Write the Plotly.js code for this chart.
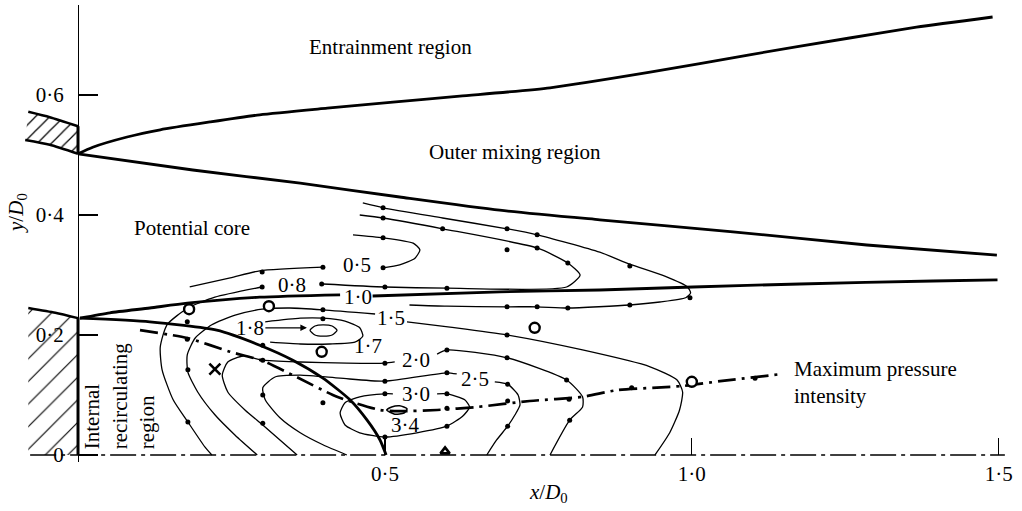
<!DOCTYPE html>
<html>
<head>
<meta charset="utf-8">
<script src="https://cdn.plot.ly/plotly-3.0.1.min.js"></script>
<style>html,body{margin:0;padding:0;background:#fff;}#chart{width:1022px;height:511px;}</style>
</head>
<body>
<div id="chart"></div>
<script>
// ---- axis ticks ----
const xTickVals = [0.5, 1.0, 1.5];
const xTickText = ['0·5', '1·0', '1·5'];
const yTickVals = [0, 0.2, 0.4, 0.6];
const yTickText = ['0', '0·2', '0·4', '0·6'];

// ---- region boundaries (x/D0, y/D0) ----
const outerEdgeX = [0, 0.024, 0.080, 0.134, 0.215, 0.296, 0.406, 0.513, 0.622, 0.769, 0.932, 1.094, 1.257, 1.366, 1.490];
const outerEdgeY = [0.502, 0.513, 0.530, 0.542, 0.555, 0.567, 0.578, 0.588, 0.598, 0.612, 0.638, 0.667, 0.695, 0.713, 0.730];
const coreTopX = [0, 0.187, 0.362, 0.524, 0.687, 0.850, 1.067, 1.285, 1.497];
const coreTopY = [0.502, 0.475, 0.453, 0.430, 0.408, 0.392, 0.372, 0.350, 0.333];
const innerEdgeX = [0.003, 0.052, 0.117, 0.178, 0.296, 0.427, null, 0.480, 0.687, 0.850, 1.002, 1.176, 1.393, 1.498];
const innerEdgeY = [0.228, 0.237, 0.245, 0.253, 0.263, 0.267, null, 0.265, 0.272, 0.275, 0.280, 0.285, 0.290, 0.292];
const coreEndX = [0.003, 0.117, 0.226, 0.296, 0.350, 0.399, 0.443, 0.471, 0.492, 0.502];
const coreEndY = [0.228, 0.222, 0.208, 0.183, 0.158, 0.128, 0.092, 0.058, 0.025, 0];
const maxPX = [0.101, 0.178, 0.248, 0.301, 0.350, 0.422, 0.492, 0.524, 0.585, 0.650, 0.736, 0.822, 0.878, 0.985, 1.046, 1.147];
const maxPY = [0.208, 0.195, 0.172, 0.157, 0.133, 0.097, 0.075, 0.073, 0.075, 0.080, 0.090, 0.097, 0.108, 0.115, 0.123, 0.135];
const centreX = [-0.078, 1.51];
const centreY = [0, 0];
const wallX = [0, 0];
const wallY = [0.228, 0];
const lipWallX = [0, 0];
const lipWallY = [0.548, 0.502];

// ---- nozzle (hatched) ----
const lipX = [-0.081, -0.046, 0, 0, -0.046, -0.086];
const lipY = [0.572, 0.563, 0.548, 0.502, 0.517, 0.525];
const lipTopX = [-0.081, -0.046, 0];
const lipTopY = [0.572, 0.563, 0.548];
const lipBotX = [-0.086, -0.046, 0];
const lipBotY = [0.525, 0.517, 0.502];
const bodyX = [-0.081, -0.037, 0, 0, -0.081];
const bodyY = [0.245, 0.237, 0.228, 0, 0];
const bodyTopX = [-0.081, -0.037, 0];
const bodyTopY = [0.245, 0.237, 0.228];

// ---- pressure-intensity contours ----
const c05X = [0.182, 0.248, 0.296, 0.399, null, 0.497, 0.524, 0.549, 0.557, 0.546, 0.497, 0.448];
const c05Y = [0.280, 0.295, 0.307, 0.313, null, 0.312, 0.317, 0.328, 0.342, 0.353, 0.362, 0.367];
const c08X = [0.218, 0.207, 0.179, 0.155, 0.137, 0.134, 0.145, 0.179, 0.223, 0.300, null, 0.399, 0.500, 0.601, 0.796, 0.818, 0.798, 0.748, 0.594, 0.497, 0.459];
const c08Y = [0, 0.013, 0.055, 0.092, 0.142, 0.180, 0.217, 0.245, 0.263, 0.280, null, 0.285, 0.280, 0.278, 0.280, 0.300, 0.320, 0.345, 0.377, 0.395, 0.400];
const cOutX = [0.464, 0.497, 0.594, 0.699, 0.748, 0.850, 0.899, 0.956, 0.993, 0.998, 0.990, 0.948, 0.899, 0.798, 0.748, 0.699, 0.601, 0.540];
const cOutY = [0.420, 0.412, 0.395, 0.377, 0.367, 0.338, 0.318, 0.298, 0.280, 0.270, 0.262, 0.255, 0.250, 0.245, 0.247, 0.247, 0.248, 0.250];
const c15X = [0.292, 0.256, 0.223, 0.195, 0.179, 0.178, 0.191, 0.218, 0.256, 0.300, 0.345, 0.399, 0.484, null, 0.536, 0.606, 0.699, 0.822, 0.932, 0.976, 0.985, 0.980, 0.964, 0.940];
const c15Y = [0, 0.033, 0.067, 0.105, 0.138, 0.167, 0.195, 0.217, 0.233, 0.243, 0.245, 0.242, 0.235, null, 0.222, 0.213, 0.200, 0.175, 0.147, 0.125, 0.105, 0.075, 0.037, 0];
const c17X = [0.305, 0.362, 0.399, 0.435, 0.459, 0.464, 0.451, 0.410, 0.362, 0.313];
const c17Y = [0.222, 0.228, 0.228, 0.223, 0.212, 0.198, 0.188, 0.185, 0.185, 0.188];
const c18X = [0.378, 0.386, 0.399, 0.414, 0.422, 0.414, 0.399, 0.386, 0.378];
const c18Y = [0.208, 0.215, 0.217, 0.215, 0.208, 0.200, 0.198, 0.200, 0.208];
const c20X = [0.357, 0.329, 0.301, 0.272, 0.244, 0.235, 0.244, 0.269, 0.301, 0.362, 0.438, 0.500, 0.516, null, 0.585, 0.601, 0.699, 0.796, 0.822, 0.822, 0.801, 0.769];
const c20Y = [0, 0.025, 0.050, 0.075, 0.105, 0.133, 0.155, 0.165, 0.158, 0.155, 0.153, 0.153, 0.155, null, 0.168, 0.175, 0.162, 0.125, 0.097, 0.080, 0.058, 0];
const c25X = [0.438, 0.399, 0.362, 0.329, 0.305, 0.301, 0.321, 0.362, 0.427, 0.500, 0.601, 0.617, null, 0.679, 0.700, 0.717, 0.720, 0.712, 0.700, 0.682, 0.666];
const c25Y = [0, 0.017, 0.037, 0.062, 0.092, 0.112, 0.130, 0.133, 0.128, 0.123, 0.137, 0.135, null, 0.122, 0.118, 0.100, 0.083, 0.067, 0.048, 0.025, 0];
const c30X = [0.585, 0.601, 0.630, 0.638, 0.627, 0.601, 0.552, 0.500, 0.459, 0.435, 0.427, 0.435, 0.459, 0.500, 0.513];
const c30Y = [0.102, 0.102, 0.092, 0.080, 0.065, 0.048, 0.037, 0.030, 0.037, 0.050, 0.070, 0.087, 0.097, 0.102, 0.102];
const c34X = [0.503, 0.511, 0.524, 0.536, 0.531, 0.516, 0.503];
const c34Y = [0.075, 0.080, 0.082, 0.077, 0.070, 0.068, 0.075];

// ---- measurement points ----
const dotX = [0.497, 0.699, 0.748, 0.899, 0.497, 0.594, 0.699, 0.748, 0.798, 0.497, 0.300, 0.399, 0.497, 0.300, 0.397, 0.500, 0.601, 0.997, 0.899, 0.798, 0.748, 0.699,
  0.178, 0.178, 0.179, 0.179, 0.399, 0.399, 0.301, 0.301, 0.301, 0.301, 0.399, 0.500, 0.500, 0.500, 0.500, 0.601, 0.601, 0.601, 0.601,
  0.699, 0.699, 0.700, 0.700, 0.796, 0.801, 0.601, 0.700, 0.800, 0.902, 1.103];
const dotY = [0.412, 0.377, 0.367, 0.315, 0.395, 0.377, 0.342, 0.345, 0.320, 0.362, 0.305, 0.313, 0.312, 0.280, 0.285, 0.280, 0.278, 0.262, 0.250, 0.245, 0.247, 0.247,
  0.222, 0.193, 0.142, 0.055, 0.242, 0.227, 0.183, 0.158, 0.100, 0.053, 0.087, 0.153, 0.123, 0.102, 0.030, 0.175, 0.137, 0.102, 0.048,
  0.200, 0.162, 0.118, 0.048, 0.125, 0.058, 0.078, 0.090, 0.093, 0.112, 0.128];
const circleX = [0.181, 0.311, 0.397, 0.744, 1.000];
const circleY = [0.243, 0.248, 0.172, 0.212, 0.122];
const crossX = [0.223];
const crossY = [0.143];
const triX = [0.598];
const triY = [0.006];

// ---- labels ----
const contourLabels = ['0·5', '0·8', '1·0', '1·5', '1·7', '2·0', '2·5', '3·0', '3·4'];
const contourLabelX = [0.454, 0.349, 0.456, 0.510, 0.472, 0.550, 0.647, 0.550, 0.533];
const contourLabelY = [0.317, 0.283, 0.263, 0.228, 0.182, 0.158, 0.127, 0.102, 0.050];
const arrowLabel = '1·8';
const arrowLabelX = 0.280;
const arrowLabelY = 0.212;
const arrowTipX = 0.373;
const arrowTipY = 0.212;

const SERIF = 'Liberation Serif, Times New Roman, serif';

function ln(x, y, w, dash) {
  return {x: x, y: y, type: 'scatter', mode: 'lines', hoverinfo: 'skip',
    line: {color: '#000', width: w, dash: dash || 'solid', shape: 'spline', smoothing: 0.6},
    connectgaps: false};
}
function straight(x, y, w, dash) {
  return {x: x, y: y, type: 'scatter', mode: 'lines', hoverinfo: 'skip',
    line: {color: '#000', width: w, dash: dash || 'solid'}};
}
function hatch(x, y, size, sol) {
  return {x: x, y: y, type: 'scatter', mode: 'lines', fill: 'toself', hoverinfo: 'skip',
    line: {width: 0, color: 'rgba(0,0,0,0)'}, fillcolor: 'rgba(0,0,0,0)',
    fillpattern: {shape: '/', fgcolor: '#000', bgcolor: 'rgba(255,255,255,0)', size: size, solidity: sol}};
}

const traces = [
  hatch(lipX, lipY, 10, 0.12),
  hatch(bodyX, bodyY, 16, 0.07),
  straight(centreX, centreY, 1.4, '26px,5px,4px,5px'),
  ln(lipTopX, lipTopY, 2.6),
  ln(lipBotX, lipBotY, 2.6),
  ln(bodyTopX, bodyTopY, 2.4),
  straight(lipWallX, lipWallY, 3),
  straight(wallX, wallY, 3),
  ln(outerEdgeX, outerEdgeY, 2.8),
  ln(coreTopX, coreTopY, 2.8),
  ln(innerEdgeX, innerEdgeY, 2.8),
  ln(coreEndX, coreEndY, 2.8),
  ln(c05X, c05Y, 1.3),
  ln(c08X, c08Y, 1.3),
  ln(cOutX, cOutY, 1.3),
  ln(c15X, c15Y, 1.3),
  ln(c17X, c17Y, 1.3),
  ln(c18X, c18Y, 1.3),
  ln(c20X, c20Y, 1.3),
  ln(c25X, c25Y, 1.3),
  ln(c30X, c30Y, 1.3),
  ln(c34X, c34Y, 1.6),
  ln(maxPX, maxPY, 2.7, '18px,6px,3px,6px'),
  {x: dotX, y: dotY, type: 'scatter', mode: 'markers', hoverinfo: 'skip',
    marker: {color: '#000', size: 5, symbol: 'circle'}, cliponaxis: false},
  {x: circleX, y: circleY, type: 'scatter', mode: 'markers', hoverinfo: 'skip',
    marker: {color: '#fff', size: 10, symbol: 'circle', line: {color: '#000', width: 2.4}}},
  {x: crossX, y: crossY, type: 'scatter', mode: 'markers', hoverinfo: 'skip',
    marker: {size: 11, symbol: 'x-thin-open', color: '#000', line: {color: '#000', width: 2.6}}},
  {x: triX, y: triY, type: 'scatter', mode: 'markers', hoverinfo: 'skip', cliponaxis: false,
    marker: {size: 8, symbol: 'triangle-up-open', color: '#000', line: {color: '#000', width: 2.6}}}
];

const annotations = [];
for (let i = 0; i < contourLabels.length; i++) {
  annotations.push({x: contourLabelX[i], y: contourLabelY[i], xref: 'x', yref: 'y', text: contourLabels[i],
    showarrow: false, font: {family: SERIF, size: 21, color: '#000'}, xanchor: 'center', yanchor: 'middle'});
}
// "1·8" label with its arrow into the innermost loop
annotations.push({x: arrowTipX, y: arrowTipY, ax: arrowLabelX, ay: arrowLabelY, xref: 'x', yref: 'y', axref: 'x', ayref: 'y',
  text: arrowLabel, showarrow: true, arrowhead: 2, arrowsize: 1.1, arrowwidth: 1.2, arrowcolor: '#000',
  font: {family: SERIF, size: 21, color: '#000'}});
function txt(x, y, t, opts) {
  return Object.assign({x: x, y: y, xref: 'x', yref: 'y', text: t, showarrow: false,
    font: {family: SERIF, size: 21, color: '#000'}, xanchor: 'left', yanchor: 'middle'}, opts || {});
}
annotations.push(txt(0.373, 0.680, 'Entrainment region'));
annotations.push(txt(0.568, 0.505, 'Outer mixing region'));
annotations.push(txt(0.088, 0.378, 'Potential core'));
annotations.push(txt(1.163, 0.120, 'Maximum pressure<br>intensity', {align: 'left'}));
annotations.push(txt(0.069, 0.006, 'Internal<br>recirculating<br>region', {textangle: -90, align: 'left', xanchor: 'center', yanchor: 'bottom'}));
annotations.push(txt(0.533, -0.068, '<i>x</i>/<i>D</i><sub>0</sub>', {xref: 'paper', yref: 'paper', xanchor: 'center', font: {family: SERIF, size: 21, color: '#000'}}));
annotations.push(txt(-0.003, 0.545, '<i>y</i>/<i>D</i><sub>0</sub>', {xref: 'paper', yref: 'paper', xanchor: 'center', textangle: -90, font: {family: SERIF, size: 21, color: '#000'}}));

const layout = {
  width: 1022, height: 511,
  margin: {l: 20, r: 11, t: 5, b: 49},
  paper_bgcolor: '#fff', plot_bgcolor: '#fff',
  showlegend: false,
  xaxis: {range: [-0.0945, 1.52], anchor: 'free', position: 0.0153,
    tickvals: xTickVals, ticktext: xTickText, ticks: 'inside', ticklen: 17, tickwidth: 1.3, tickcolor: '#000',
    showgrid: false, zeroline: false, showline: false, ticklabelstandoff: 4,
    tickfont: {family: SERIF, size: 21, color: '#000'}},
  yaxis: {range: [-0.0117, 0.75], anchor: 'free', position: 0.0585,
    tickvals: yTickVals, ticktext: yTickText, ticks: 'inside', ticklen: 19, tickwidth: 1.3, tickcolor: '#000',
    showgrid: false, zeroline: false, showline: true, linecolor: '#000', linewidth: 1.3, ticklabelstandoff: 10,
    tickfont: {family: SERIF, size: 21, color: '#000'}},
  annotations: annotations
};

Plotly.newPlot('chart', traces, layout, {displayModeBar: false, staticPlot: true});
</script>
</body>
</html>
